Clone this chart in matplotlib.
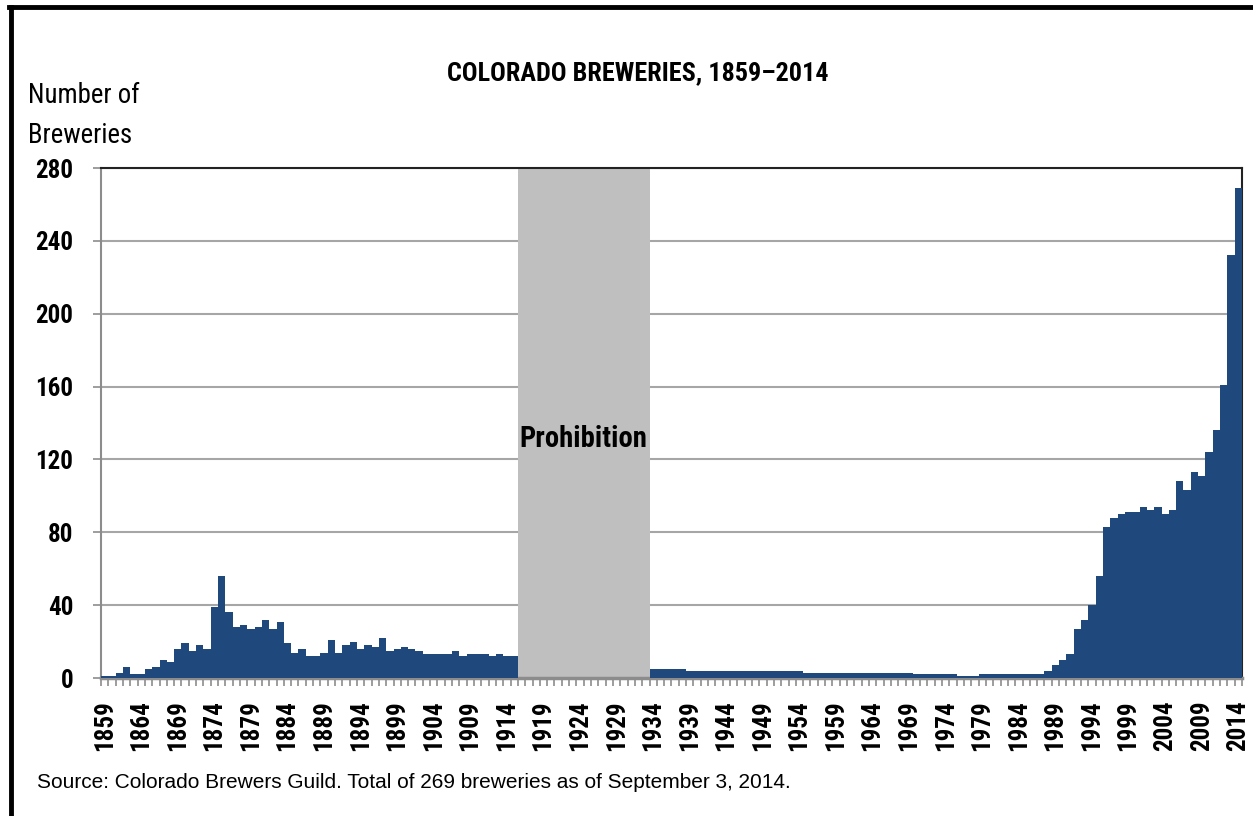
import matplotlib
matplotlib.use("Agg")
import matplotlib.pyplot as plt
from matplotlib import font_manager
import numpy as np

# breweries per year; prohibition years have no bars
early_years = list(range(1859, 1916))
early_counts = [1, 1, 3, 6, 2, 2, 5, 6, 10, 9,
                16, 19, 15, 18, 16, 39, 56, 36, 28, 29,
                27, 28, 32, 27, 31, 19, 14, 16, 12, 12,
                14, 21, 14, 18, 20, 16, 18, 17, 22, 15,
                16, 17, 16, 15, 13, 13, 13, 13, 15, 12,
                13, 13, 13, 12, 13, 12, 12]
prohibition = (1916, 1934)
late_years = list(range(1934, 2015))
late_counts = ([5] * 5 + [4] * 16 + [3] * 15 + [2] * 6 + [1] * 3 + [2] * 9 +
               [4, 7, 10, 13, 27, 32, 40, 56, 83, 88, 90, 91, 91, 94, 92, 94,
                90, 92, 108, 103, 113, 111, 124, 136, 161, 232, 269])
label_years = list(range(1859, 2015, 5))
y_ticks = list(range(0, 281, 40))

title = "COLORADO BREWERIES, 1859\u20132014"
source = "Source: Colorado Brewers Guild. Total of 269 breweries as of September 3, 2014."


def find_narrow(bold):
    """Look for an installed condensed face, return its file or None."""
    want = ["Liberation Sans Narrow", "Roboto Condensed", "Open Sans Condensed", "DejaVu Sans"]
    for fam in want:
        for f in font_manager.fontManager.ttflist:
            if f.name != fam:
                continue
            if fam == "DejaVu Sans" and f.stretch not in ("condensed", "semi-condensed") \
                    and "Condensed" not in f.fname:
                continue
            is_bold = f.weight in ("bold", 700) or "Bold" in f.fname
            if is_bold == bold and "Oblique" not in f.fname and "Italic" not in f.fname:
                return f.fname, fam
    return None, None


bold_file, bold_fam = find_narrow(True)
reg_file, reg_fam = find_narrow(False)


def fp(bold, size):
    path = bold_file if bold else reg_file
    if path:
        return font_manager.FontProperties(fname=path, size=size)
    return font_manager.FontProperties(family="DejaVu Sans", stretch="condensed",
                                       weight="bold" if bold else "normal", size=size)


if bold_fam == "Liberation Sans Narrow":
    sz = dict(tick=19, title=19, ylab=21, proh=21)
elif bold_fam == "Roboto Condensed":
    sz = dict(tick=18, title=18.8, ylab=19.3, proh=20.6)
else:
    sz = dict(tick=15.5, title=15.5, ylab=17, proh=16.5)

BLUE = "#1f497d"
GREY = "#bfbfc0"

fig = plt.figure(figsize=(12.53, 8.16), dpi=100)
ax = fig.add_axes([0.0806, 0.1691, 0.9106, 0.6250])

ax.bar(early_years, early_counts, width=1.0, align="edge", color=BLUE, linewidth=0, zorder=3)
ax.bar(late_years, late_counts, width=1.0, align="edge", color=BLUE, linewidth=0, zorder=3)
ax.axvspan(prohibition[0], prohibition[1], color=GREY, linewidth=0, zorder=2)
ax.text(sum(prohibition) / 2, 126.8, "Prohibition", ha="center", va="baseline",
        fontproperties=fp(True, sz["proh"]), zorder=4)

ax.set_xlim(1859, 2015)
ax.set_ylim(0, 280)
ax.set_yticks(y_ticks)
ax.set_yticklabels([str(v) for v in y_ticks], fontproperties=fp(True, sz["tick"]))
ax.yaxis.grid(True, color="#a6a6a6", linewidth=1.5, zorder=1)
ax.set_axisbelow(True)

ax.set_xticks([y + 0.5 for y in label_years])
ax.set_xticklabels([str(y) for y in label_years], rotation=90,
                   fontproperties=fp(True, sz["tick"]))
ax.set_xticks(range(1859, 2016), minor=True)
ax.tick_params(axis="x", which="major", length=0, pad=16)
ax.tick_params(axis="x", which="minor", length=6, width=1.2, color="#8c8c8c")
ax.tick_params(axis="y", length=6, width=1.2, color="#8c8c8c", pad=14)

for side in ("left", "bottom"):
    ax.spines[side].set_color("#8c8c8c")
ax.spines["left"].set_linewidth(1.5)
ax.spines["bottom"].set_linewidth(2.5)
for side in ("top", "right"):
    ax.spines[side].set_color("#222222")
    ax.spines[side].set_linewidth(1.5)

fig.text(0.5088, 0.902, title, ha="center", va="baseline", fontproperties=fp(True, sz["title"]))
fig.text(0.022, 0.8734, "Number of", ha="left", va="baseline", fontproperties=fp(False, sz["ylab"]))
fig.text(0.022, 0.8244, "Breweries", ha="left", va="baseline", fontproperties=fp(False, sz["ylab"]))
fig.text(0.0295, 0.041, source, ha="left", va="center", fontsize=15, family="Liberation Sans")

# frame around the graphic (left and top edges visible)
fig.add_artist(plt.Line2D([0.0088, 0.0088], [0, 0.9915], color="black", linewidth=3.5))
fig.add_artist(plt.Line2D([0.0075, 1.0], [0.9915, 0.9915], color="black", linewidth=3.5))

fig.savefig("out.png", dpi=100)
